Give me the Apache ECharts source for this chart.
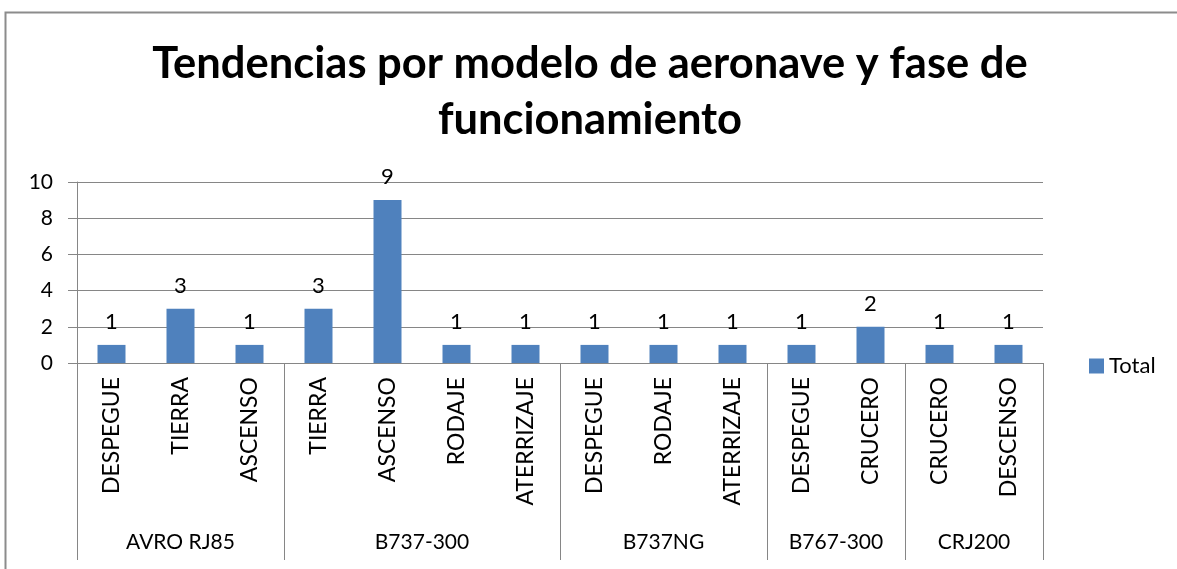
<!DOCTYPE html>
<html>
<head>
<meta charset="utf-8">
<script src="https://cdn.jsdelivr.net/npm/echarts@6/dist/echarts.min.js"></script>
<style>
html,body{margin:0;padding:0;background:#fff;}
#chart{width:1177px;height:569px;}
</style>
</head>
<body>
<div id="chart"></div>
<script>
const titleText = 'Tendencias por modelo de aeronave y fase de\nfuncionamiento';
const phases = ['DESPEGUE','TIERRA','ASCENSO','TIERRA','ASCENSO','RODAJE','ATERRIZAJE','DESPEGUE','RODAJE','ATERRIZAJE','DESPEGUE','CRUCERO','CRUCERO','DESCENSO'];
const models = ['AVRO RJ85','B737-300','B737NG','B767-300','CRJ200'];
const modelSizes = [3,4,3,2,2];
const totals = [1,3,1,3,9,1,1,1,1,1,1,2,1,1];
const seriesName = 'Total';
const yTicks = [0,10,2];

// derived group boundaries and centers
const bounds = [0];
modelSizes.forEach(s => bounds.push(bounds[bounds.length-1] + s));
const centers = models.map((m,i) => (bounds[i] + bounds[i+1]) / 2);

const font = 'Lato, "Open Sans", sans-serif';
const gray = '#868686';

const chart = echarts.init(document.getElementById('chart'), null, {renderer:'canvas'});
chart.setOption({
  animation:false,
  backgroundColor:'#fff',
  graphic:[{
    type:'rect', left:3, top:10, silent:true,
    shape:{width:1300, height:700},
    style:{fill:'none', stroke:'#8c8c8c', lineWidth:2}
  }],
  title:{
    text:titleText,
    left:585, top:31, textAlign:'center',
    textStyle:{fontFamily:font, fontWeight:'bold', fontSize:43.5, lineHeight:56, color:'#000'}
  },
  legend:{
    data:[seriesName], left:1084, top:350, itemWidth:15, itemHeight:15, icon:'rect', itemGap:8,
    textStyle:{fontFamily:font, fontSize:22, color:'#000'}
  },
  grid:{left:77, right:134, top:182, bottom:206},
  xAxis:[{
    type:'category', data:phases, boundaryGap:true,
    axisLine:{show:true, lineStyle:{color:gray, width:1}},
    axisTick:{show:false},
    axisLabel:{rotate:90, margin:14, fontFamily:font, fontSize:23, color:'#000', interval:0}
  },{
    type:'value', min:0, max:bounds[bounds.length-1], position:'bottom',
    axisLine:{show:false},
    splitLine:{show:false},
    axisTick:{show:true, inside:false, length:197, customValues:bounds, lineStyle:{color:gray, width:1}},
    axisLabel:{show:true, customValues:centers, margin:169, fontFamily:font, fontSize:21, color:'#000',
      formatter:(v)=>{ const i = centers.findIndex(c=>Math.abs(c-v)<1e-6); return i>=0 ? models[i] : ''; }}
  }],
  yAxis:{
    type:'value', min:yTicks[0], max:yTicks[1], interval:yTicks[2],
    axisLine:{show:true, lineStyle:{color:gray}},
    axisTick:{show:true, length:9, lineStyle:{color:gray}},
    splitLine:{show:true, lineStyle:{color:gray, width:1}},
    axisLabel:{margin:24, fontFamily:font, fontSize:21, color:'#000'}
  },
  series:[{
    name:seriesName, type:'bar', xAxisIndex:0, data:totals, barWidth:28,
    itemStyle:{color:'#4F81BD'},
    label:{show:true, position:'top', distance:12, fontFamily:font, fontSize:22, color:'#000'}
  }]
});
</script>
</body>
</html>
